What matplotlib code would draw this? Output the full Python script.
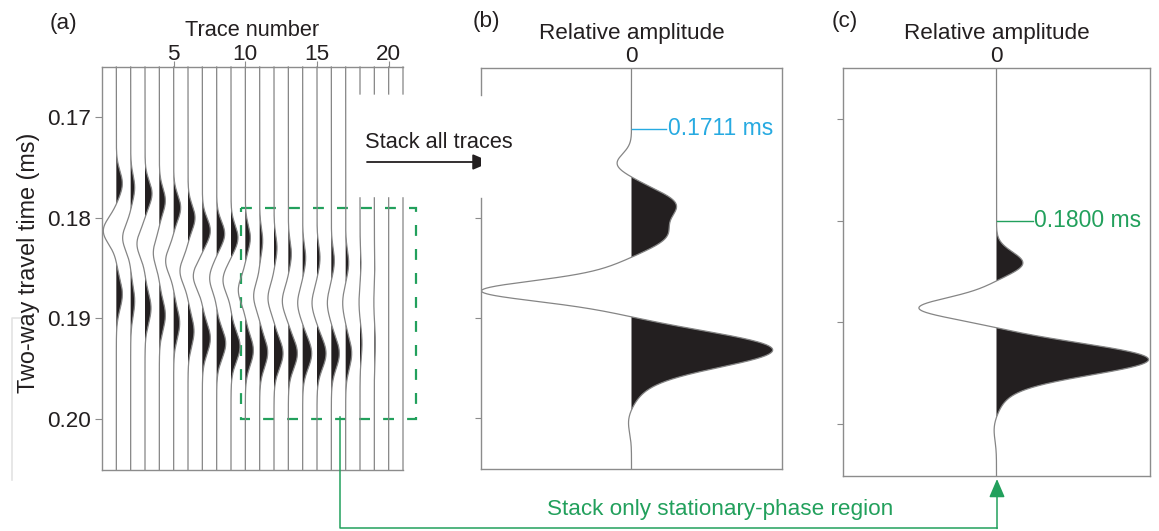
import numpy as np
import matplotlib
matplotlib.use('agg')
import matplotlib.pyplot as plt
from matplotlib.patches import Rectangle
from matplotlib.lines import Line2D

plt.rcParams['font.family'] = ['Liberation Sans', 'DejaVu Sans']
plt.rcParams['font.size'] = 16.2

W, H = 1159, 531
INK = '#231f20'
LINE = '#858585'
SPINE = '#8c8c8c'
GREEN = '#22a05c'
BLUE = '#27aae1'

# (a) gather: every trace is three lobes (time in ms, amplitude in trace spacings)
trace_no = list(range(1, 22))
up_time = [0.1766, 0.1770, 0.1776, 0.1783, 0.1790, 0.1800, 0.1813, 0.1816, 0.1820, 0.1820, 0.1823,
           0.1830, 0.1836, 0.1840, 0.1840, 0.1843, 0.1845, 0.1845, 0.1845, 0.1845, 0.1845]
up_amp = [0.42, 0.28, 0.49, 0.42, 0.49, 0.49, 0.56, 0.56, 0.49, 0.35, 0.21,
          0.21, 0.21, 0.21, 0.21, 0.21, 0.21, 0.07, 0.035, 0.0, 0.0]
tr_time = [0.1813, 0.1820, 0.1826, 0.1835, 0.1843, 0.1853, 0.1858, 0.1860, 0.1862, 0.1872, 0.1878,
           0.1880, 0.1883, 0.1885, 0.1885, 0.1885, 0.1885, 0.1885, 0.1885, 0.1885, 0.1885]
tr_amp = [-0.91, -0.56, -0.56, -0.42, -0.56, -0.56, -0.63, -0.49, -0.56, -0.49, -0.42,
          -0.42, -0.42, -0.35, -0.35, -0.28, -0.21, -0.07, -0.035, 0.0, 0.0]
lo_time = [0.1876, 0.1883, 0.1890, 0.1897, 0.1905, 0.1913, 0.1920, 0.1925, 0.1928, 0.1932, 0.1934,
           0.1935, 0.1935, 0.1935, 0.1935, 0.1935, 0.1935, 0.1925, 0.1925, 0.1925, 0.1925]
lo_amp = [0.42, 0.28, 0.42, 0.42, 0.42, 0.42, 0.56, 0.63, 0.63, 0.56, 0.56,
          0.63, 0.63, 0.63, 0.63, 0.56, 0.42, 0.14, 0.07, 0.0, 0.0]
lobe_width = {'up': 0.00125, 'tr': 0.0013, 'lo': 0.0015}

# (b) stack of all traces: lobes (time, relative amplitude, width)
all_time = [0.1746, 0.1786, 0.1818, 0.1873, 0.1873, 0.1931, 0.1950, 0.2002]
all_amp = [-0.10, 0.28, 0.22, -0.60, -0.40, 0.87, 0.10, -0.025]
all_width = [0.0010, 0.0014, 0.0014, 0.0009, 0.0018, 0.0017, 0.0022, 0.0012]
all_onset = 0.1711

# (c) stack of the stationary-phase traces only
stat_time = [0.1842, 0.1886, 0.1886, 0.1936, 0.1952, 0.2003]
stat_amp = [0.176, -0.32, -0.19, 0.93, 0.08, -0.02]
stat_width = [0.0011, 0.0009, 0.0016, 0.0015, 0.0022, 0.0012]
stat_onset = 0.1800

time_ticks = [0.17, 0.18, 0.19, 0.20]
trace_ticks = [5, 10, 15, 20]
t_top, t_bot = 0.165, 0.2051
gap = (0.1677, 0.1780)  # where the "stack all traces" arrow cuts through

t = np.linspace(t_top, t_bot, 2000)


def wiggle(times, amps, widths):
    w = np.zeros_like(t)
    for c, a, s in zip(times, amps, widths):
        w += a * np.exp(-0.5 * ((t - c) / s) ** 2)
    return w


def rect(x0, y0, x1, y1):
    return [x0 / W, 1 - y1 / H, (x1 - x0) / W, (y1 - y0) / H]


def fx(x):
    return x / W


def fy(y):
    return 1 - y / H


def style_spines(ax, sides):
    for side, sp in ax.spines.items():
        sp.set_visible(side in sides)
        sp.set_color(SPINE)
        sp.set_linewidth(1.0)


fig = plt.figure(figsize=(W / 100, H / 100), dpi=100)

# ---- (a)
ax = fig.add_axes(rect(102, 67, 403, 470))
for i, k in enumerate(trace_no):
    w = wiggle([up_time[i], tr_time[i], lo_time[i]],
               [up_amp[i], tr_amp[i], lo_amp[i]],
               [lobe_width['up'], lobe_width['tr'], lobe_width['lo']])
    x = k + w
    if k >= 18:
        x = np.where((t > gap[0]) & (t < gap[1]), np.nan, x)
    ax.fill_betweenx(t, k, k + w, where=w > 0, interpolate=True, color=INK, lw=0)
    ax.plot(x, t, color=LINE, lw=0.9, clip_on=False)
ax.set_xlim(0, 21)
ax.set_ylim(t_bot, t_top)
style_spines(ax, ['left', 'top', 'bottom'])
ax.xaxis.tick_top()
ax.xaxis.set_label_position('top')
ax.set_xticks(trace_ticks)
ax.set_xticklabels([str(v) for v in trace_ticks])
ax.set_xlabel('Trace number', labelpad=6, color=INK, fontsize=15.7)
ax.set_yticks(time_ticks)
ax.set_yticklabels(['%.2f' % v for v in time_ticks])
ax.set_ylabel('Two-way travel time (ms)', labelpad=4.5, color=INK, fontsize=16.8)
ax.yaxis.set_label_coords(-0.205, 0.513)
ax.tick_params(axis='x', direction='out', length=4, width=0.8, color=SPINE, pad=-2.5, labelcolor=INK)
ax.tick_params(axis='y', direction='out', length=5, width=0.8, color=SPINE, pad=3, labelcolor=INK)
ax.add_patch(Rectangle((9.7, 0.1790), 12.2, 0.0210, fill=False, edgecolor=GREEN,
                       lw=1.6, linestyle=(0, (4.9, 5.9)), clip_on=False))

# ---- (b)
axb = fig.add_axes(rect(481, 68, 782, 469))
wb = wiggle(all_time, all_amp, all_width)
axb.fill_betweenx(t, 0, wb, where=wb > 0, interpolate=True, color=INK, lw=0)
axb.plot(wb, t, color=LINE, lw=0.9)
axb.set_xlim(-1, 1)
axb.set_ylim(t_bot, t_top)
style_spines(axb, ['top', 'right', 'bottom'])
axb.plot([-1, -1], [t_top, gap[0]], color=SPINE, lw=1.0, clip_on=False)
axb.plot([-1, -1], [gap[1], t_bot], color=SPINE, lw=1.0, clip_on=False)
axb.plot([0, 0.23], [all_onset, all_onset], color=BLUE, lw=1.0)
axb.text(0.24, all_onset, '%.4f ms' % all_onset, color=BLUE, va='center', ha='left', fontsize=16.5)

# ---- (c)
axc = fig.add_axes(rect(843, 68, 1150, 476))
wc = wiggle(stat_time, stat_amp, stat_width)
axc.fill_betweenx(t, 0, wc, where=wc > 0, interpolate=True, color=INK, lw=0)
axc.plot(wc, t, color=LINE, lw=0.9)
axc.set_xlim(-1, 1)
axc.set_ylim(t_bot, t_top)
style_spines(axc, ['top', 'right', 'bottom', 'left'])
axc.plot([0, 0.235], [stat_onset, stat_onset], color=GREEN, lw=1.0)
axc.text(0.245, stat_onset, '%.4f ms' % stat_onset, color=GREEN, va='center', ha='left', fontsize=16.5)

for a, ticks in ((axb, time_ticks[1:]), (axc, time_ticks)):
    a.xaxis.tick_top()
    a.xaxis.set_label_position('top')
    a.set_xticks([0])
    a.set_xticklabels(['0'])
    a.set_xlabel('Relative amplitude', labelpad=5, color=INK)
    a.set_yticks(ticks)
    a.set_yticklabels([])
    a.tick_params(axis='x', length=0, pad=0.5, labelcolor=INK)
    a.tick_params(axis='y', direction='out', length=4, width=0.8, color=SPINE)

# panel letters
for x, y, s in ((63, 23, '(a)'), (486, 22, '(b)'), (845, 22, '(c)')):
    fig.text(fx(x), fy(y), s, ha='center', va='center', color=INK)

# stack all traces arrow
fig.text(fx(365), fy(143), 'Stack all traces', ha='left', va='center', color=INK, fontsize=15.7)
ax.annotate('', xy=(fx(491), fy(162)), xytext=(fx(367), fy(162)),
            xycoords='figure fraction', textcoords='figure fraction',
            arrowprops=dict(arrowstyle='-|>,head_length=0.7,head_width=0.3',
                            color=INK, lw=1.3, mutation_scale=16, shrinkA=0, shrinkB=0))

# stationary-phase connector
fig.add_artist(Line2D([fx(340), fx(340), fx(997)], [fy(417), fy(528), fy(528)],
                      color=GREEN, lw=1.1))
ax.annotate('', xy=(fx(997), fy(479)), xytext=(fx(997), fy(528.5)),
            xycoords='figure fraction', textcoords='figure fraction',
            arrowprops=dict(arrowstyle='-|>,head_length=0.7,head_width=0.3',
                            color=GREEN, lw=1.1, mutation_scale=16, shrinkA=0, shrinkB=0))
fig.text(fx(720), fy(509), 'Stack only stationary-phase region', ha='center', va='center',
         color=GREEN)

# faint page bracket at the left margin
fig.add_artist(Line2D([fx(20), fx(12), fx(12)], [fy(318), fy(318), fy(480)],
                      color='#e3e3e3', lw=1.2))

fig.savefig('out.png', dpi=100)
